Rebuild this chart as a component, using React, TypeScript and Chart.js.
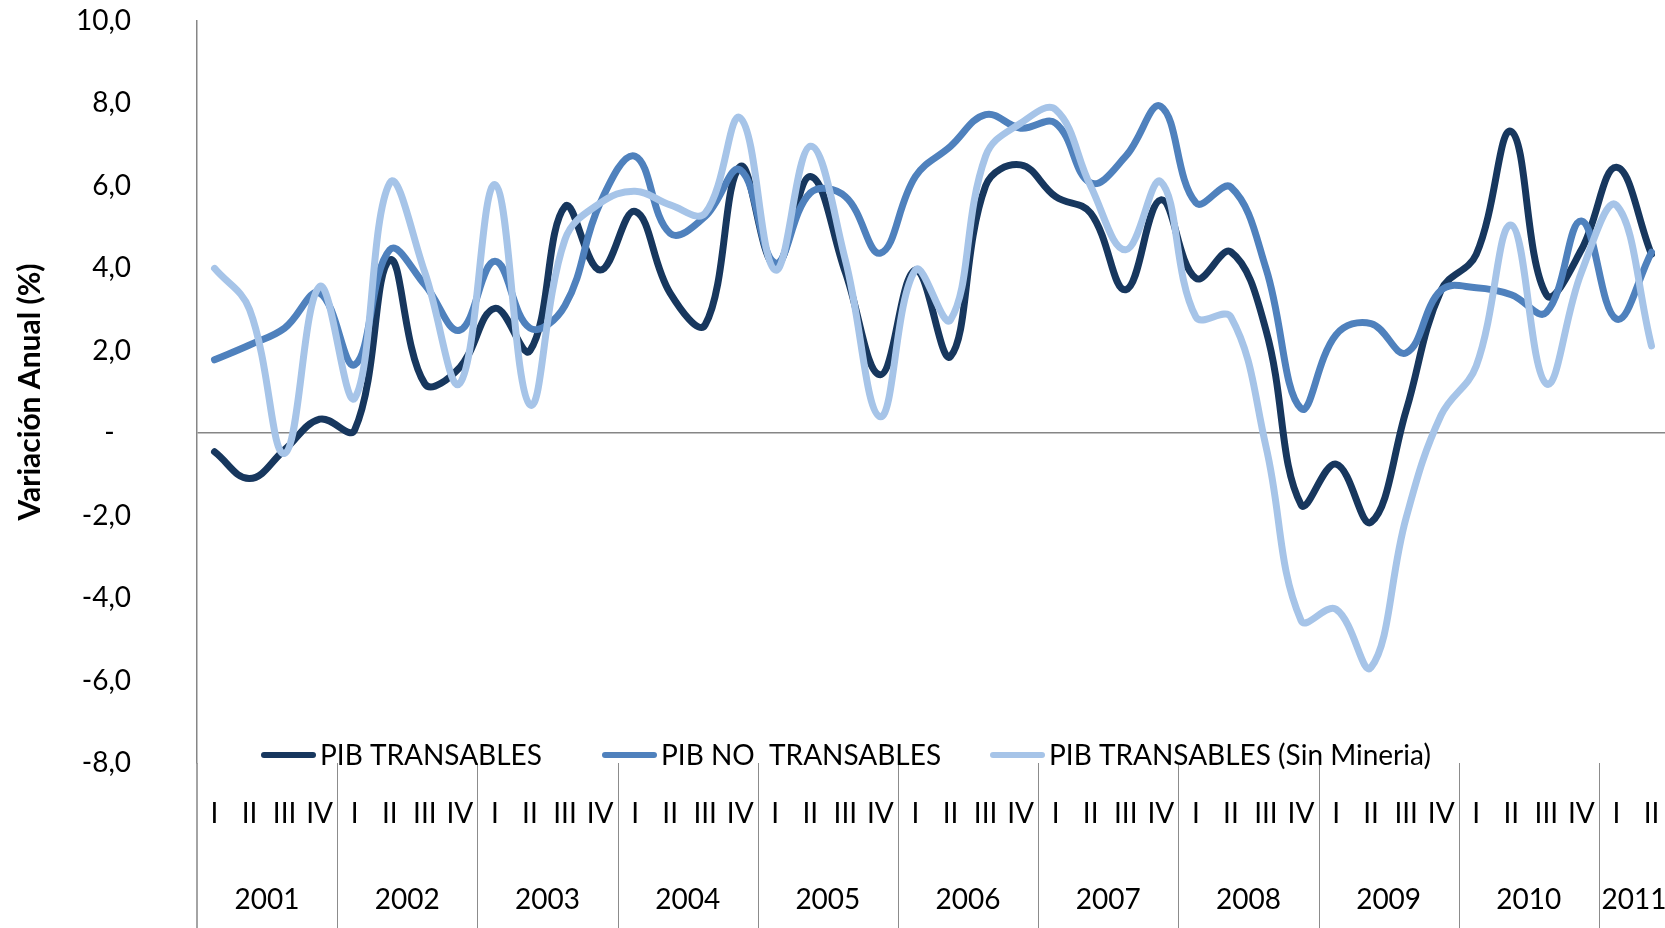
import React, { useEffect, useRef } from 'react';
import { Chart, registerables } from 'chart.js';

Chart.register(...registerables);

// ---------- DATA ----------
const years = ['2001', '2002', '2003', '2004', '2005', '2006', '2007', '2008', '2009', '2010', '2011'];
const quartersPerYear = [4, 4, 4, 4, 4, 4, 4, 4, 4, 4, 2];
const quarterNames = ['I', 'II', 'III', 'IV'];

const pibTransables = [
  -0.45, -1.1, -0.4, 0.34, 0.08, 4.2, 1.2, 1.6, 3.03, 2.0,
  5.5, 3.96, 5.38, 3.4, 2.63, 6.47, 4.05, 6.23, 3.9, 1.42,
  3.96, 1.86, 6.0, 6.51, 5.74, 5.34, 3.48, 5.66, 3.76, 4.4,
  2.5, -1.73, -0.75, -2.16, 0.55, 3.47, 4.34, 7.32, 3.36, 4.45,
  6.45, 4.34,
];
const pibNoTransables = [
  1.78, 2.14, 2.55, 3.4, 1.66, 4.45, 3.6, 2.5, 4.17, 2.55,
  3.1, 5.58, 6.72, 4.85, 5.26, 6.39, 4.13, 5.83, 5.74, 4.37,
  6.23, 6.96, 7.73, 7.4, 7.52, 6.07, 6.72, 7.93, 5.59, 5.97,
  4.0, 0.6, 2.39, 2.66, 1.95, 3.47, 3.53, 3.36, 2.93, 5.15,
  2.77, 4.39,
];
const pibTransablesSinMineria = [
  4.0, 3.0, -0.49, 3.56, 0.85, 6.07, 3.9, 1.21, 6.03, 0.69,
  4.7, 5.58, 5.87, 5.54, 5.34, 7.65, 3.96, 6.96, 4.2, 0.4,
  3.96, 2.75, 6.72, 7.52, 7.85, 5.99, 4.45, 6.1, 2.82, 2.82,
  -0.32, -4.54, -4.27, -5.68, -2.05, 0.44, 1.63, 5.05, 1.2, 3.9,
  5.53, 2.12,
];

const seriesLabels = ['PIB TRANSABLES', 'PIB NO  TRANSABLES', 'PIB TRANSABLES (Sin Mineria)'];
const yAxisTitle = 'Variación Anual (%)';
const yMin = -8;
const yMax = 10;
const yStep = 2;

// categories built from years / quarters
const categories: { year: string; q: string }[] = [];
years.forEach((yr, g) => {
  for (let k = 0; k < quartersPerYear[g]; k++) categories.push({ year: yr, q: quarterNames[k] });
});

// ---------- STYLE ----------
const COLORS = ['#17375E', '#4F81BD', '#A6C4E8'];
const AXIS = '#868686';
const FONT = 'Lato, "Open Sans", sans-serif';

const overlayPlugin = {
  id: 'overlay',
  afterDraw(chart: any) {
    const { ctx, chartArea, scales } = chart;
    const xs = scales.x;
    const n = categories.length;
    const cw = (chartArea.right - chartArea.left) / n;
    const H = chart.height;
    ctx.save();

    // y axis extension below the plot
    ctx.strokeStyle = AXIS;
    ctx.lineWidth = 1.5;
    ctx.beginPath();
    ctx.moveTo(chartArea.left, chartArea.bottom);
    ctx.lineTo(chartArea.left, H);
    ctx.stroke();

    ctx.fillStyle = '#000';
    ctx.textAlign = 'center';
    ctx.textBaseline = 'middle';
    ctx.font = `28px ${FONT}`;

    let idx = 0;
    years.forEach((yr, g) => {
      const cnt = quartersPerYear[g];
      const first = idx;
      const last = idx + cnt - 1;
      if (g > 0) {
        const bx = Math.round(xs.getPixelForValue(first) - cw / 2) + 0.5;
        ctx.strokeStyle = '#8c8c8c';
        ctx.lineWidth = 1;
        ctx.beginPath();
        ctx.moveTo(bx, chartArea.bottom);
        ctx.lineTo(bx, H);
        ctx.stroke();
      }
      for (let i = first; i <= last; i++) {
        ctx.fillText(categories[i].q, xs.getPixelForValue(i), 814);
      }
      ctx.fillText(yr, (xs.getPixelForValue(first) + xs.getPixelForValue(last)) / 2, 900);
      idx += cnt;
    });

    // legend
    const legendX = [261, 602, 990];
    const legendY = 755;
    seriesLabels.forEach((lab, i) => {
      const x0 = legendX[i];
      ctx.strokeStyle = COLORS[i];
      ctx.lineWidth = 6;
      ctx.lineCap = 'round';
      ctx.beginPath();
      ctx.moveTo(x0 + 3, legendY);
      ctx.lineTo(x0 + 52, legendY);
      ctx.stroke();
      ctx.fillStyle = '#000';
      ctx.textAlign = 'left';
      ctx.font = `28px ${FONT}`;
      ctx.fillText(lab, x0 + 59, legendY + 1);
    });

    // y axis title
    ctx.save();
    ctx.translate(30, (chartArea.top + chartArea.bottom) / 2);
    ctx.rotate(-Math.PI / 2);
    ctx.textAlign = 'center';
    ctx.textBaseline = 'middle';
    ctx.font = `bold 30px ${FONT}`;
    ctx.fillStyle = '#000';
    ctx.fillText(yAxisTitle, 0, 0);
    ctx.restore();

    ctx.restore();
  },
};

export default function App() {
  const ref = useRef<HTMLCanvasElement | null>(null);

  useEffect(() => {
    document.body.style.margin = '0';
    const canvas = ref.current;
    if (!canvas) return;
    const chart = new Chart(canvas, {
      type: 'line',
      data: {
        labels: categories.map((c) => `${c.year} ${c.q}`),
        datasets: [
          { label: seriesLabels[0], data: pibTransables, borderColor: COLORS[0], order: 3 },
          { label: seriesLabels[1], data: pibNoTransables, borderColor: COLORS[1], order: 2 },
          { label: seriesLabels[2], data: pibTransablesSinMineria, borderColor: COLORS[2], order: 1 },
        ].map((d) => ({
          ...d,
          backgroundColor: d.borderColor,
          borderWidth: 7,
          pointRadius: 0,
          pointHoverRadius: 0,
          tension: 0.4,
          fill: false,
          borderCapStyle: 'round' as const,
          borderJoinStyle: 'round' as const,
        })),
      },
      options: {
        responsive: false,
        animation: false,
        devicePixelRatio: 1,
        layout: { padding: { top: 21, left: 0, right: 0, bottom: 165 } },
        plugins: {
          legend: { display: false },
          tooltip: { enabled: false },
          title: { display: false },
        },
        events: [],
        scales: {
          x: {
            type: 'category',
            display: false,
            offset: true,
          },
          y: {
            min: yMin,
            max: yMax,
            afterFit: (s: any) => {
              s.width = 197;
              s.paddingTop = 17;
              s.paddingBottom = 17;
            },
            ticks: {
              stepSize: yStep,
              padding: 66,
              color: '#000',
              font: { family: FONT, size: 28 },
              callback: (v: any) => (Number(v) === 0 ? '-\u2007' : Number(v).toFixed(1).replace('.', ',')),
            },
            grid: {
              drawTicks: false,
              lineWidth: 1.5,
              color: (c: any) => (c.tick && c.tick.value === 0 ? AXIS : 'rgba(0,0,0,0)'),
            },
            border: { display: true, color: AXIS, width: 1.5 },
          },
        },
      },
      plugins: [overlayPlugin],
    });
    return () => chart.destroy();
  }, []);

  return (
    <div
      style={{
        position: 'absolute',
        left: 0,
        top: 0,
        width: 1665,
        height: 928,
        overflow: 'hidden',
        background: '#fff',
      }}
    >
      <canvas ref={ref} width={1669} height={928} style={{ display: 'block' }} />
    </div>
  );
}
